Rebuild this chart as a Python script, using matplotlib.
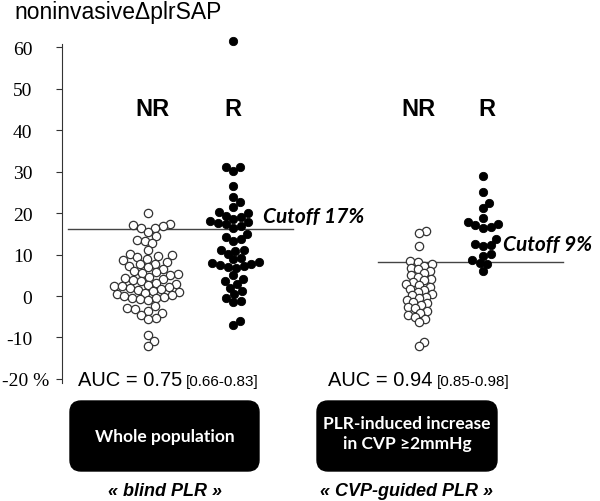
import numpy as np
import matplotlib.pyplot as plt
from matplotlib.patches import FancyBboxPatch
from matplotlib.transforms import ScaledTranslation

# data (noninvasive dplrSAP, %)
nr_blind = [20.0,
            17.3, 17.0, 16.8, 16.5, 16.3,
            15.5, 14.5,
            13.6, 13.2, 12.8,
            11.2,
            10.2, 9.8, 9.6, 9.3,
            8.9, 8.6, 8.3,
            7.8, 7.6, 7.3, 7.0, 6.6,
            6.0, 5.8, 5.5, 5.2, 5.0, 4.6,
            4.3, 4.0, 3.8, 3.5, 3.2, 3.0,
            2.7, 2.5, 2.3, 2.1, 1.9, 1.6,
            1.4, 1.2, 1.0, 0.8, 0.5, 0.3,
            0.0, -0.2, -0.4, -0.6, -0.8, -1.0,
            -2.5, -3.0, -3.2, -3.5, -4.0,
            -4.6, -5.2, -5.5,
            -9.3, -10.8, -12.0]
r_blind = [61.5, 31.2, 31.0, 30.2, 26.5, 23.8, 22.6, 21.5, 20.2, 19.9,
           19.3, 19.0, 18.5, 18.0, 17.8, 17.5, 17.3, 16.8, 16.3, 15.0,
           14.2, 13.8, 13.3, 11.2, 11.0, 10.8, 10.2, 9.2, 8.8, 8.3,
           8.0, 7.8, 7.5, 7.3, 7.0, 6.8, 5.0, 4.2, 3.6, 3.0,
           2.0, 1.2, 0.4, -0.5, -1.2, -1.5, -6.0, -7.0]
nr_cvp = [15.7, 15.3, 12.1, 8.4, 8.1, 7.6, 7.2, 6.8, 6.4, 6.0,
          5.5, 5.0, 4.6, 4.2, 3.8, 3.4, 3.0, 2.6, 2.2, 1.8,
          1.4, 1.0, 0.6, 0.2, -0.2, -0.6, -1.0, -1.4, -1.8, -2.2,
          -2.6, -3.0, -3.5, -4.0, -4.5, -5.0, -5.6, -6.3, -11.0, -12.0]
r_cvp = [28.8, 25.1, 22.4, 21.2, 18.7, 17.8, 17.3, 17.0, 16.6, 16.4,
         13.7, 12.6, 12.2, 12.0, 10.1, 9.7, 8.7, 8.0, 7.6, 6.0]

cutoffs = [16.1, 8.2]
cutoff_labels = ["Cutoff 17%", "Cutoff 9%"]
auc_main = ["AUC = 0.75", "AUC = 0.94"]
auc_ci = ["[0.66-0.83]", "[0.85-0.98]"]
yticks = [-20, -10, 0, 10, 20, 30, 40, 50, 60]
ytick_labels = ["-20 %", "-10", "0", "10", "20", "30", "40", "50", "60"]

W, H = 600, 502
fig = plt.figure(figsize=(W / 100, H / 100), dpi=100)
ax = fig.add_axes([0, 0, 1, 1])
ylo, yhi = -49.4, 71.57
ax.set_xlim(0, W)
ax.set_ylim(ylo, yhi)
ppu = H / (yhi - ylo)  # pixels per y unit


def swarm(values, center, d):
    ys = np.asarray(values, float) * ppu
    xs = np.zeros(len(ys))
    placed = []
    for i in np.argsort(ys):
        y = ys[i]
        near = [(px, py) for px, py in placed if abs(py - y) < d]
        cands = [0.0]
        for px, py in near:
            dx = np.sqrt(d * d - (py - y) ** 2)
            cands += [px + dx, px - dx]
        cands.sort(key=abs)
        for c in cands:
            if all((c - px) ** 2 + (y - py) ** 2 >= d * d - 1e-6 for px, py in near):
                xs[i] = c
                break
        placed.append((xs[i], y))
    return center + xs


groups = [(nr_blind, 148, False, 8.0), (r_blind, 233, True, 8.0),
          (nr_cvp, 419, False, 6.8), (r_cvp, 483, True, 8.0)]
for vals, cx, filled, d in groups:
    x = swarm(vals, cx, d)
    if filled:
        ax.scatter(x, vals, s=36, color="black", edgecolor="black", lw=0.6, zorder=3)
    else:
        ax.scatter(x, vals, s=36, facecolor="white", edgecolor="#333333", lw=0.9, zorder=3)

# cutoff lines
ax.plot([68, 293], [cutoffs[0]] * 2, color="#444444", lw=1.0, zorder=2)
ax.plot([378, 563], [cutoffs[1]] * 2, color="#444444", lw=1.0, zorder=2)

# y axis
for s in ["top", "right", "bottom"]:
    ax.spines[s].set_visible(False)
ax.spines["left"].set_position(("data", 62))
ax.spines["left"].set_bounds(-21, 60.8)
ax.spines["left"].set_color("#333333")
ax.set_xticks([])
ax.set_yticks(yticks)
ax.set_yticklabels(ytick_labels, fontfamily="Liberation Serif", fontsize=14)
ax.tick_params(axis="y", direction="out", length=4.3, width=0.8, color="#333333", pad=17)
lbl = ax.get_yticklabels()[0]
lbl.set_transform(lbl.get_transform() + ScaledTranslation(0.17, 0, fig.dpi_scale_trans))

# annotation layer in pixel coords
ov = fig.add_axes([0, 0, 1, 1], facecolor="none")
ov.set_xlim(0, W)
ov.set_ylim(H, 0)
ov.axis("off")

ov.text(14, 13, "noninvasive\u0394plrSAP", fontfamily="Liberation Sans", fontsize=16.5, va="center")

for x, t in [(152, "NR"), (233, "R"), (418, "NR"), (487, "R")]:
    ov.text(x, 110, t, fontfamily="Liberation Sans", fontweight="bold", fontsize=17,
            ha="center", va="center")

ov.text(263, 217, cutoff_labels[0], fontfamily=["Lato", "DejaVu Sans"], fontweight="bold",
        fontstyle="italic", fontsize=15, va="center")
ov.text(503, 245, cutoff_labels[1], fontfamily=["Lato", "DejaVu Sans"], fontweight="bold",
        fontstyle="italic", fontsize=15, va="center")

for x0, i in [(78, 0), (328, 1)]:
    t = ov.text(x0, 386, auc_main[i], fontfamily="Liberation Sans", fontsize=14.5, va="baseline")
    fig.canvas.draw()
    bb = t.get_window_extent()
    ov.text(bb.x1 + 4, 386, auc_ci[i], fontfamily="Liberation Sans", fontsize=11, va="baseline")

for x0, x1 in [(70, 259), (317, 497)]:
    ov.add_patch(FancyBboxPatch((x0, 402), x1 - x0, 70,
                                boxstyle="round,pad=0,rounding_size=11",
                                facecolor="black", edgecolor="black"))

ov.text(164.5, 437, "Whole population", color="white", fontfamily=["Lato", "DejaVu Sans"],
        fontweight="bold", fontsize=12.5, ha="center", va="center")
ov.text(407, 434, "PLR-induced increase\nin CVP \u22652mmHg", color="white",
        fontfamily=["Lato", "DejaVu Sans"], fontweight="bold", fontsize=12.5,
        ha="center", va="center", linespacing=1.25)

ov.text(164.5, 492, "\u00ab blind PLR \u00bb", fontfamily="Liberation Sans", fontweight="bold",
        fontstyle="italic", fontsize=13, ha="center", va="center")
ov.text(407, 492, "\u00ab CVP-guided PLR \u00bb", fontfamily="Liberation Sans", fontweight="bold",
        fontstyle="italic", fontsize=13, ha="center", va="center")

fig.savefig("out.png", dpi=100)
